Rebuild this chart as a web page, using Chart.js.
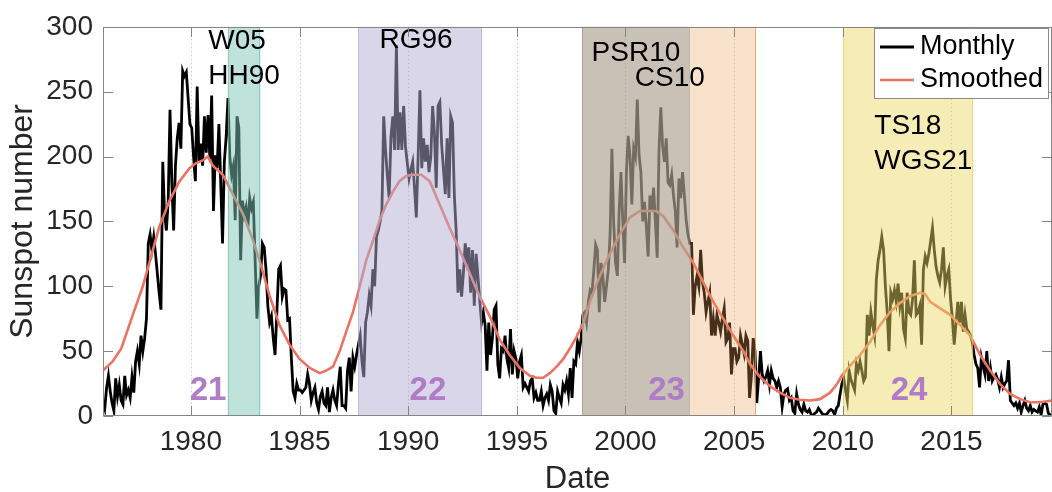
<!DOCTYPE html>
<html>
<head>
<meta charset="utf-8">
<title>Sunspot number</title>
<script src="https://cdn.jsdelivr.net/npm/chart.js@4/dist/chart.umd.min.js"></script>
<style>
  html, body { margin: 0; padding: 0; background: #fff; }
</style>
</head>
<body>
<canvas id="sunspots" width="1052" height="492"></canvas>
<script>
// monthly sunspot number, one value per month (mid-month), Dec 1975 .. Aug 2019
const monthlyStart = 1975 + 11.5 / 12;
const monthlyValues = [
  12,
  6, 22, 31, 19, 10, 4, 29, 15, 24, 12, 9, 31,                  // 1976
  16, 20, 14, 30, 18, 42, 50, 40, 62, 50, 60, 75,               // 1977
  133, 140, 128, 138, 125, 110, 95, 82, 196, 156, 143, 166,     // 1978
  236, 180, 143, 193, 214, 226, 206, 266, 262, 265, 245, 225,   // 1979
  222, 200, 181, 254, 196, 210, 193, 231, 203, 232, 198, 247,   // 1980
  158, 201, 191, 225, 180, 133, 196, 215, 245, 200, 186, 193,   // 1981
  151, 231, 222, 120, 166, 155, 161, 146, 168, 160, 165, 120,   // 1982
  75, 100, 108, 133, 130, 113, 85, 72, 77, 60, 47, 80,          // 1983
  113, 116, 92, 98, 97, 74, 75, 45, 19, 14, 25, 20,             // 1984
  20, 18, 20, 22, 32, 25, 12, 18, 22, 10, 5, 15,                // 1985
  19, 10, 8, 22, 3, 14, 20, 12, 8, 25, 38, 8,                   // 1986
  8, 6, 35, 45, 19, 45, 38, 47, 55, 62, 42, 30,                 // 1987
  72, 80, 93, 85, 113, 100, 138, 143, 150, 158, 231, 205,       // 1988
  185, 168, 215, 231, 205, 286, 205, 234, 205, 239, 208, 195,   // 1989
  183, 190, 196, 176, 153, 200, 251, 191, 214, 196, 209, 188,   // 1990
  200, 239, 218, 176, 239, 242, 209, 190, 171, 214, 168, 231,   // 1991
  226, 170, 143, 95, 113, 92, 110, 133, 120, 130, 95, 128,      // 1992
  85, 125, 108, 90, 72, 80, 70, 35, 72, 47, 60, 82,             // 1993
  85, 40, 29, 52, 50, 62, 44, 37, 67, 32, 50, 44,               // 1994
  29, 42, 47, 22, 25, 22, 19, 27, 29, 14, 18, 12,               // 1995
  12, 19, 8, 14, 17, 12, 24, 19, 4, 2, 19, 14,                  // 1996
  10, 24, 20, 27, 17, 37, 14, 42, 40, 57, 50, 60,               // 1997
  78, 80, 72, 88, 97, 95, 112, 132, 128, 80, 118, 108,          // 1998
  88, 100, 113, 140, 206, 148, 118, 108, 158, 188, 150, 118,    // 1999
  188, 216, 200, 163, 206, 200, 244, 201, 188, 150, 165, 146,   // 2000
  123, 170, 158, 176, 150, 122, 205, 238, 208, 196, 214, 180,   // 2001
  178, 186, 170, 158, 130, 183, 168, 188, 170, 151, 140, 133,   // 2002
  133, 78, 100, 108, 100, 128, 103, 95, 80, 88, 95, 62,         // 2003
  75, 62, 78, 72, 65, 75, 83, 57, 60, 72, 32, 52,               // 2004
  52, 42, 45, 62, 55, 48, 62, 58, 14, 30, 60, 50,               // 2005
  10, 29, 50, 32, 27, 30, 35, 24, 35, 29, 27, 22,               // 2006
  27, 22, 7, 17, 20, 21, 12, 14, 4, 2, 17, 9,                   // 2007
  5, 3, 9, 4, 3, 5, 1, 0.5, 2, 3, 6, 4,                         // 2008
  2, 1, 1, 2, 4, 5, 4, 1, 6, 8, 17, 25,                         // 2009
  29, 20, 12, 35, 28, 24, 20, 40, 35, 42, 35, 27,               // 2010
  30, 78, 62, 80, 70, 62, 105, 120, 128, 138, 128, 100,         // 2011
  80, 50, 95, 90, 97, 88, 102, 85, 95, 67, 60, 95,              // 2012
  80, 78, 90, 120, 78, 80, 85, 55, 113, 123, 118, 125,          // 2013
  135, 145, 128, 115, 108, 103, 113, 130, 100, 108, 113, 90,    // 2014
  75, 55, 72, 88, 72, 88, 65, 78, 67, 65, 62, 57,               // 2015
  47, 40, 37, 22, 45, 38, 32, 50, 27, 37, 27, 30,               // 2016
  32, 28, 22, 30, 22, 25, 27, 43, 12, 10, 8, 10,                // 2017
  6, 10, 3, 8, 12, 6, 4, 8, 3, 5, 4, 3,                         // 2018
  7, 1, 9, 10, 9, 2, 1, 1                                       // 2019
];

// 13-month smoothed series
const smoothYears = [
  1975.96, 1976.4, 1976.8, 1977.33, 1977.79, 1978.09, 1978.55, 1979.02, 1979.48, 1979.94,
  1980.24, 1980.55, 1980.78, 1981.01, 1981.47, 1981.93, 1982.39, 1982.85, 1983.16, 1983.62,
  1984.08, 1984.54, 1985.0, 1985.47, 1985.93, 1986.23, 1986.54, 1986.85, 1987.15, 1987.46,
  1987.77, 1988.07, 1988.38, 1988.69, 1988.99, 1989.3, 1989.6, 1989.91, 1990.22, 1990.6,
  1990.99, 1991.45, 1991.91, 1992.37, 1992.83, 1993.29, 1993.75, 1994.21, 1994.67, 1995.14,
  1995.6, 1995.9, 1996.21, 1996.52, 1996.83, 1997.14, 1997.44, 1997.75, 1998.06, 1998.36,
  1998.82, 1999.28, 1999.74, 2000.2, 2000.66, 2000.97, 2001.43, 2001.74, 2002.2, 2002.66,
  2003.12, 2003.58, 2004.04, 2004.5, 2004.96, 2005.42, 2005.73, 2006.19, 2006.65, 2007.11,
  2007.57, 2008.03, 2008.49, 2008.95, 2009.41, 2009.71, 2009.95, 2010.33, 2010.79, 2011.25,
  2011.71, 2012.17, 2012.63, 2013.1, 2013.56, 2013.79, 2014.02, 2014.48, 2014.94, 2015.4,
  2015.86, 2016.32, 2016.78, 2017.24, 2017.7, 2018.16, 2018.62, 2019.08, 2019.62
];
const smoothValues = [
  35, 42, 52, 78, 100, 118, 146, 166, 181, 191,
  195, 197, 200, 193, 186, 171, 156, 136, 120, 93,
  70, 55, 44, 37, 33, 35, 38, 50, 65, 80,
  100, 120, 135, 151, 163, 173, 181, 185, 186, 186,
  181, 163, 145, 128, 110, 92, 77, 59, 47, 37,
  31, 29.5, 29.5, 33, 38, 44, 52, 61, 72, 88,
  108, 125, 140, 153, 158, 158, 158, 154, 143, 130,
  118, 103, 88, 75, 62, 50, 40, 30, 23, 18,
  14, 12.5, 12, 13, 18, 24, 31, 38.6, 47, 57,
  70, 80, 87, 92.5, 95, 94, 88, 83, 78, 70,
  62, 47, 35, 24.5, 17, 13, 10.6, 10.6, 12
];

const yearTicks = [1980, 1985, 1990, 1995, 2000, 2005, 2010, 2015];
const countTicks = [0, 50, 100, 150, 200, 250, 300];

// observing periods of the studies (years); CS10 sits under PSR10
const spanNames = ['W05/HH90', 'RG96', 'CS10', 'PSR10', 'TS18/WGS21'];
const spanStart = [1981.7, 1987.7, 1998.0, 1998.0, 2010.0];
const spanEnd = [1983.2, 1993.4, 2006.0, 2002.95, 2016.0];

const studyLabels = ['W05', 'HH90', 'RG96', 'PSR10', 'CS10', 'TS18', 'WGS21'];
const cycleLabels = ['21', '22', '23', '24'];

// ---- layout and styles ----
const FONT = "'Liberation Sans', Arial, Helvetica, sans-serif";
const spanFill = [
  'rgba(127,197,183,0.5)',
  'rgba(177,173,209,0.5)',
  'rgba(232,158,85,0.3)',
  'rgba(158,165,161,0.53)',
  'rgba(234,214,100,0.47)'
];
const spanEdge = [
  'rgba(110,185,170,0.6)',
  'rgba(160,155,205,0.5)',
  'rgba(225,150,90,0.75)',
  'rgba(150,155,150,0.4)',
  'rgba(220,200,90,0.5)'
];
// text anchors in data units: [year at left edge, value at centre]
const studyAt = [
  [1980.8, 289], [1980.8, 261.5], [1988.68, 289.4], [1998.44, 279.3],
  [2000.43, 260.4], [2011.45, 223.2], [2011.45, 196]
];
const cycleAt = [1980.79, 1990.91, 2001.89, 2013.05];
const cycleValue = 19.5;

const monthlyPoints = monthlyValues.map((v, i) => ({ x: monthlyStart + i / 12, y: v }));
const smoothPoints = smoothYears.map((yr, i) => ({ x: yr, y: smoothValues[i] }));

const decorations = {
  id: 'decorations',
  beforeDatasetsDraw(chart) {
    const { ctx, chartArea: a, scales: { x } } = chart;
    ctx.save();
    ctx.strokeStyle = 'rgba(0,0,0,0.22)';
    ctx.lineWidth = 1;
    ctx.setLineDash([1.5, 2.5]);
    yearTicks.forEach(t => {
      const px = Math.round(x.getPixelForValue(t)) + 0.5;
      ctx.beginPath();
      ctx.moveTo(px, a.top);
      ctx.lineTo(px, a.bottom);
      ctx.stroke();
    });
    ctx.restore();
  },
  afterDatasetsDraw(chart) {
    const { ctx, chartArea: a, scales: { x, y } } = chart;
    ctx.save();
    // translucent study periods laid over the curves
    spanStart.forEach((s, i) => {
      const x0 = x.getPixelForValue(s);
      const x1 = x.getPixelForValue(spanEnd[i]);
      ctx.fillStyle = spanFill[i];
      ctx.fillRect(x0, a.top, x1 - x0, a.bottom - a.top);
      ctx.strokeStyle = spanEdge[i];
      ctx.lineWidth = 1;
      ctx.beginPath();
      ctx.moveTo(Math.round(x0) + 0.5, a.top);
      ctx.lineTo(Math.round(x0) + 0.5, a.bottom);
      ctx.moveTo(Math.round(x1) - 0.5, a.top);
      ctx.lineTo(Math.round(x1) - 0.5, a.bottom);
      ctx.stroke();
    });

    ctx.fillStyle = '#000';
    ctx.font = `28px ${FONT}`;
    ctx.textAlign = 'left';
    ctx.textBaseline = 'middle';
    studyLabels.forEach((txt, i) => {
      ctx.fillText(txt, x.getPixelForValue(studyAt[i][0]), y.getPixelForValue(studyAt[i][1]));
    });

    ctx.fillStyle = '#B07CC6';
    ctx.font = `bold 33px ${FONT}`;
    ctx.textAlign = 'center';
    cycleLabels.forEach((txt, i) => {
      ctx.fillText(txt, x.getPixelForValue(cycleAt[i]), y.getPixelForValue(cycleValue));
    });
    ctx.restore();
  },
  afterDraw(chart) {
    const { ctx, chartArea: a, scales: { x, y } } = chart;
    const L = Math.round(a.left) + 0.5, R = Math.round(a.right) - 0.5;
    const T = Math.round(a.top) + 0.5, B = Math.round(a.bottom) - 0.5;
    const tick = 9.5;
    ctx.save();
    ctx.strokeStyle = '#858585';
    ctx.lineWidth = 1;
    ctx.strokeRect(L, T, R - L, B - T);
    ctx.beginPath();
    countTicks.forEach(v => {
      const py = Math.round(y.getPixelForValue(v)) + 0.5;
      ctx.moveTo(L, py); ctx.lineTo(L + tick, py);
      ctx.moveTo(R, py); ctx.lineTo(R - tick, py);
    });
    yearTicks.forEach(v => {
      const px = Math.round(x.getPixelForValue(v)) + 0.5;
      ctx.moveTo(px, B); ctx.lineTo(px, B - tick);
      ctx.moveTo(px, T); ctx.lineTo(px, T + tick);
    });
    ctx.stroke();

    // legend box
    const bx = 874.5, by = 28.5, bw = 174, bh = 70;
    ctx.fillStyle = '#fff';
    ctx.fillRect(bx, by, bw, bh);
    ctx.strokeStyle = '#8a8a8a';
    ctx.strokeRect(bx, by, bw, bh);
    ctx.font = `27px ${FONT}`;
    ctx.textAlign = 'left';
    ctx.textBaseline = 'middle';
    chart.data.datasets.forEach((ds, i) => {
      const ly = 47 + i * 33;
      ctx.strokeStyle = ds.borderColor;
      ctx.lineWidth = ds.borderWidth;
      ctx.beginPath();
      ctx.moveTo(880, ly);
      ctx.lineTo(914, ly);
      ctx.stroke();
      ctx.fillStyle = '#000';
      ctx.fillText(ds.label, 920, ly);
    });
    ctx.restore();
  }
};

new Chart(document.getElementById('sunspots'), {
  type: 'line',
  data: {
    datasets: [
      {
        label: 'Monthly',
        data: monthlyPoints,
        borderColor: '#000000',
        borderWidth: 2.8,
        pointRadius: 0,
        tension: 0,
        order: 1
      },
      {
        label: 'Smoothed',
        data: smoothPoints,
        borderColor: '#ED7262',
        borderWidth: 2.6,
        pointRadius: 0,
        tension: 0,
        order: 0
      }
    ]
  },
  options: {
    responsive: false,
    animation: false,
    events: [],
    layout: { padding: { top: 19, right: 0, bottom: 0, left: 0 } },
    plugins: {
      legend: { display: false },
      tooltip: { enabled: false }
    },
    scales: {
      x: {
        type: 'linear',
        min: monthlyPoints[0].x,
        max: monthlyPoints[monthlyPoints.length - 1].x,
        afterBuildTicks: s => { s.ticks = yearTicks.map(v => ({ value: v })); },
        afterFit: s => { s.height = 76; },
        grid: { display: false, drawTicks: false },
        border: { display: false },
        ticks: {
          autoSkip: false,
          maxRotation: 0,
          padding: 9,
          color: '#262626',
          font: { family: FONT, size: 28 },
          callback: v => String(v)
        },
        title: {
          display: true,
          text: 'Date',
          color: '#262626',
          font: { family: FONT, size: 31, lineHeight: 1 },
          padding: { top: 0, bottom: -3 }
        }
      },
      y: {
        min: 0,
        max: 300,
        afterBuildTicks: s => { s.ticks = countTicks.map(v => ({ value: v })); },
        afterFit: s => { s.width = 103; },
        grid: { display: false, drawTicks: false },
        border: { display: false },
        ticks: {
          autoSkip: false,
          padding: 10,
          color: '#262626',
          font: { family: FONT, size: 28 }
        },
        title: {
          display: true,
          text: 'Sunspot number',
          color: '#262626',
          font: { family: FONT, size: 32, lineHeight: 1 },
          padding: { top: 7.5, bottom: 0 }
        }
      }
    }
  },
  plugins: [decorations]
});
</script>
</body>
</html>
